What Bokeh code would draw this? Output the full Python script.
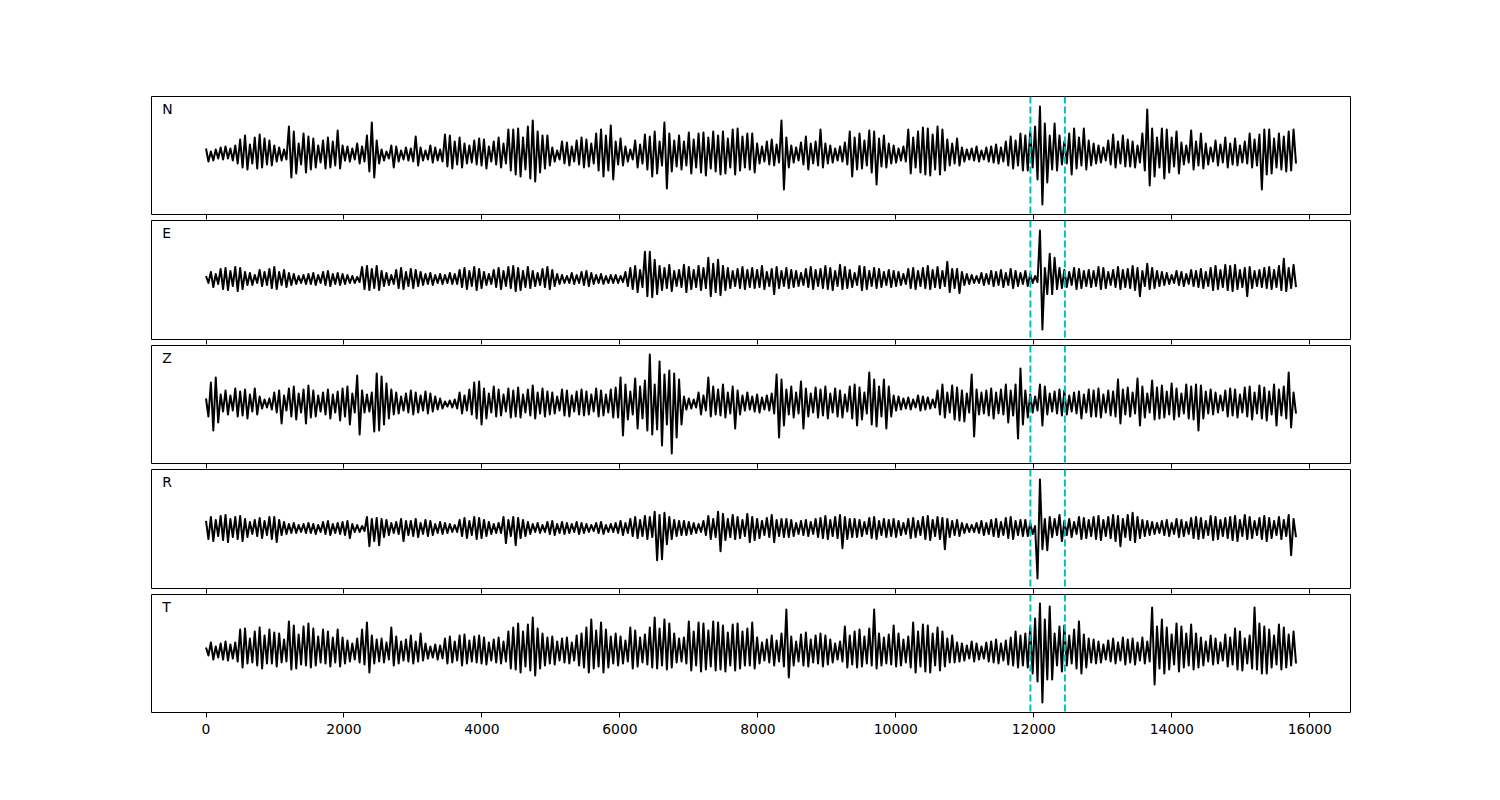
import numpy as np
from bokeh.plotting import figure
from bokeh.layouts import column
from bokeh.models import Range1d, Span, Label, FixedTicker, ColumnDataSource
from bokeh.embed import file_html
from bokeh.resources import INLINE

# ---------------- data (peak deflections) ----------------
channels = ["N", "E", "Z", "R", "T"]
t_start, t_end = 0, 15800
picks = [11950, 12450]
tick_values = [0, 2000, 4000, 6000, 8000, 10000, 12000, 14000, 16000]

trace_N = [
    7,-6,4,-5,6,-3,8,-4,9,-3,7,-5,10,-8,
    16,-12,20,-14,11,-8,18,-13,21,-12,17,-9,15,-10,
    10,-6,8,-5,6,-4,29,-22,24,-18,12,-9,22,-17,
    19,-14,17,-12,10,-7,15,-13,18,-12,14,-10,25,-13,
    10,-5,9,-6,7,-4,12,-8,9,-6,20,-16,33,-22,
    15,-8,6,-5,4,-3,10,-12,9,-6,5,-4,8,-5,
    7,-6,19,-10,8,-5,5,-4,10,-7,8,-5,6,-6,
    21,-11,20,-13,14,-9,18,-12,12,-8,10,-7,15,-9,
    17,-10,16,-13,9,-6,14,-9,18,-12,12,-8,26,-15,
    26,-19,27,-21,18,-14,29,-23,35,-26,24,-17,20,-13,
    20,-10,8,-6,5,-4,14,-8,13,-10,9,-6,15,-9,
    18,-12,16,-11,12,-8,22,-15,26,-21,20,-15,30,-24,
    14,-9,17,-10,9,-6,6,-4,15,-12,11,-8,21,-14,
    19,-21,24,-18,14,-10,33,-33,22,-16,15,-11,20,-14,
    14,-10,23,-18,16,-12,22,-17,23,-20,18,-13,24,-16,
    20,-19,24,-18,17,-12,26,-19,27,-15,19,-12,22,-14,
    22,-17,12,-8,9,-6,14,-9,16,-10,11,-7,35,-34,
    18,-12,10,-7,8,-5,13,-9,19,-14,12,-8,14,-10,
    26,-12,12,-8,10,-7,7,-5,9,-6,13,-9,24,-21,
    18,-14,22,-13,15,-10,25,-17,24,-29,17,-11,20,-12,
    12,-8,10,-7,7,-5,9,-6,26,-18,18,-12,24,-17,
    28,-19,27,-20,21,-14,29,-19,26,-15,16,-10,12,-8,
    17,-10,8,-6,6,-4,7,-5,9,-6,5,-4,8,-6,
    9,-7,11,-8,8,-6,14,-10,19,-13,15,-10,22,-15,
    20,-15,24,-12,29,-24,49,-49,32,-27,20,-14,32,-15,
    20,-9,14,-8,22,-19,27,-13,18,-10,27,-14,15,-10,
    12,-8,10,-7,8,-5,15,-9,21,-12,14,-8,20,-11,
    16,-11,14,-12,10,-7,22,-15,46,-30,27,-21,18,-12,
    27,-23,26,-17,18,-11,24,-18,13,-9,10,-7,25,-14,
    14,-10,22,-13,12,-9,8,-6,15,-10,11,-7,18,-12,
    12,-9,17,-10,10,-7,14,-8,22,-12,16,-10,21,-34,
    26,-19,26,-18,17,-12,22,-14,19,-16,24,-15,26,-8,
]

trace_E = [
    4,-3,8,-7,6,-4,11,-9,12,-10,9,-6,13,-11,
    12,-9,8,-5,7,-5,5,-3,10,-6,8,-5,11,-8,
    13,-9,8,-5,10,-7,7,-5,6,-4,4,-3,5,-4,
    6,-4,7,-5,5,-3,8,-5,9,-6,6,-4,7,-5,
    6,-4,5,-3,4,-3,3,-2,13,-9,14,-10,11,-8,
    14,-10,9,-6,7,-5,5,-4,10,-8,12,-9,8,-6,
    11,-8,10,-6,8,-5,6,-4,7,-5,5,-3,6,-4,
    5,-3,7,-4,6,-4,10,-7,12,-9,9,-6,13,-10,
    11,-8,8,-5,6,-4,10,-7,12,-9,9,-6,13,-8,
    14,-11,12,-10,9,-7,13,-8,9,-6,7,-5,11,-7,
    13,-9,10,-6,6,-4,5,-3,4,-3,7,-4,5,-3,
    8,-5,9,-6,7,-4,5,-3,6,-4,4,-3,5,-3,
    5,-3,4,-2,8,-6,12,-9,14,-12,10,-7,28,-16,
    28,-17,20,-14,14,-10,12,-8,15,-11,9,-6,10,-7,
    15,-12,13,-9,10,-7,14,-10,12,-8,22,-16,16,-12,
    20,-15,14,-10,12,-8,9,-6,11,-8,13,-9,10,-7,
    12,-8,10,-7,14,-9,8,-6,11,-14,13,-8,9,-6,
    12,-8,10,-7,9,-6,7,-5,11,-7,13,-9,10,-6,
    11,-8,14,-9,12,-10,9,-6,15,-9,13,-8,10,-7,
    7,-5,14,-10,13,-9,9,-6,12,-8,11,-7,8,-5,
    10,-7,9,-6,8,-5,6,-4,11,-8,12,-9,9,-6,
    12,-8,14,-9,10,-7,13,-8,9,-6,18,-12,11,-8,
    11,-13,8,-5,6,-4,5,-3,4,-3,7,-5,6,-4,
    9,-6,8,-5,10,-7,7,-5,11,-8,9,-6,7,-4,
    9,-6,6,-3,4,-2,49,-49,12,-14,26,-14,22,-9,
    12,-8,10,-7,8,-5,12,-9,11,-8,9,-6,10,-7,
    9,-6,13,-9,12,-8,8,-5,10,-7,13,-9,10,-7,
    11,-8,14,-10,12,-16,9,-6,16,-9,12,-8,9,-6,
    8,-5,7,-4,5,-3,9,-5,8,-6,6,-4,10,-6,
    9,-7,11,-8,8,-6,12,-10,14,-9,10,-7,15,-10,
    14,-11,15,-9,10,-7,12,-16,13,-8,9,-6,10,-7,
    12,-8,13,-9,10,-7,14,-10,21,-11,12,-8,15,-7,
]

trace_Z = [
    6,-12,22,-26,27,-18,10,-7,14,-10,9,-6,16,-12,
    13,-11,15,-14,10,-7,16,-10,8,-4,5,-3,6,-5,
    12,-8,14,-19,9,-6,16,-12,18,-15,11,-8,15,-19,
    19,-13,14,-12,9,-7,12,-10,15,-14,10,-8,13,-16,
    16,-12,18,-20,11,-8,29,-30,14,-8,10,-7,12,-27,
    31,-26,28,-20,21,-14,15,-10,12,-9,8,-6,11,-8,
    14,-10,12,-8,9,-6,13,-9,11,-7,8,-5,6,-4,
    3,-2,4,-3,5,-4,12,-9,9,-6,15,-10,22,-14,
    23,-20,16,-14,11,-8,18,-12,15,-11,10,-7,16,-13,
    14,-12,17,-13,10,-8,15,-11,19,-14,12,-9,16,-12,
    13,-10,12,-9,8,-6,15,-11,14,-12,9,-7,13,-10,
    15,-11,13,-10,10,-7,16,-12,14,-11,10,-8,15,-13,
    17,-13,27,-31,20,-15,13,-10,26,-24,18,-14,24,-26,
    50,-30,20,-25,43,-41,30,-20,34,-49,31,-33,25,-20,
    8,-5,6,-4,5,-3,12,-10,9,-6,27,-12,18,-10,
    15,-11,20,-13,12,-9,18,-24,14,-10,9,-6,12,-5,
    8,-7,10,-8,7,-5,9,-6,11,-9,30,-33,25,-21,
    15,-10,18,-13,12,-9,23,-24,16,-12,11,-8,17,-13,
    15,-11,18,-14,11,-8,16,-12,14,-13,10,-7,18,-14,
    20,-21,17,-15,12,-9,32,-20,25,-22,18,-12,25,-24,
    18,-12,9,-6,8,-5,6,-4,7,-5,5,-3,9,-6,
    8,-5,7,-4,5,-3,14,-10,20,-13,12,-8,19,-15,
    17,-16,14,-17,11,-8,30,-32,15,-10,12,-9,14,-11,
    16,-14,12,-9,15,-10,20,-18,14,-11,20,-34,36,-20,
    14,-13,10,-8,8,-6,20,-21,18,-10,11,-7,13,-9,
    15,-11,14,-10,9,-7,12,-9,13,-14,10,-8,15,-12,
    14,-12,16,-13,10,-8,14,-11,13,-12,25,-19,15,-10,
    17,-12,12,-9,26,-21,18,-13,11,-8,24,-15,17,-14,
    19,-13,13,-10,21,-15,16,-12,11,-9,20,-14,18,-15,
    20,-26,19,-14,13,-9,15,-10,12,-8,9,-6,14,-12,
    16,-11,15,-13,10,-8,17,-12,18,-15,12,-9,19,-14,
    17,-16,13,-10,20,-21,15,-11,18,-14,32,-23,12,-9,
]

trace_R = [
    8,-10,12,-12,9,-7,13,-11,14,-13,10,-8,12,-10,
    13,-12,10,-8,7,-5,9,-7,11,-9,8,-6,12,-10,
    12,-13,9,-6,7,-5,5,-4,6,-4,4,-3,5,-4,
    6,-4,5,-5,4,-3,7,-5,8,-6,5,-4,6,-5,
    7,-6,8,-9,5,-3,4,-3,3,-2,12,-17,10,-12,
    11,-16,10,-8,9,-6,6,-4,7,-5,10,-12,8,-6,
    8,-7,10,-8,6,-5,9,-7,8,-6,5,-4,7,-5,
    6,-4,5,-3,4,-3,9,-7,11,-9,8,-6,12,-10,
    11,-9,9,-7,7,-5,5,-4,6,-4,12,-14,9,-7,
    12,-16,11,-9,9,-7,7,-5,5,-3,6,-4,4,-3,
    7,-5,8,-6,5,-4,7,-5,6,-4,5,-3,7,-5,
    6,-4,5,-3,4,-2,6,-4,7,-5,4,-3,5,-3,
    6,-4,8,-6,6,-4,10,-7,12,-9,9,-7,13,-10,
    12,-8,17,-31,14,-30,16,-15,12,-10,9,-7,8,-6,
    8,-6,7,-5,6,-4,5,-3,8,-6,13,-10,10,-8,
    17,-22,15,-11,10,-8,14,-10,12,-9,9,-7,15,-13,
    12,-11,10,-9,8,-6,11,-8,14,-13,9,-7,10,-8,
    10,-8,9,-7,6,-5,8,-6,9,-7,7,-5,10,-8,
    11,-9,13,-10,9,-7,12,-9,14,-19,12,-10,10,-8,
    10,-8,9,-7,7,-5,11,-9,12,-10,8,-6,10,-8,
    9,-7,10,-8,8,-6,6,-5,10,-9,11,-8,8,-6,
    12,-10,13,-11,9,-7,12,-10,11,-20,10,-8,8,-6,
    9,-7,6,-4,5,-3,4,-3,6,-4,8,-6,6,-5,
    9,-7,10,-8,7,-6,11,-9,12,-10,8,-6,9,-7,
    9,-7,6,-5,3,-49,49,-20,10,-21,12,-8,10,-6,
    14,-12,8,-6,10,-8,7,-5,12,-10,11,-9,9,-7,
    12,-10,13,-11,9,-7,12,-9,14,-12,13,-17,10,-8,
    14,-11,16,-13,12,-9,9,-7,8,-6,7,-5,6,-4,
    8,-6,9,-7,6,-5,10,-8,9,-7,7,-5,11,-9,
    12,-10,11,-9,8,-6,13,-11,12,-10,9,-7,11,-9,
    12,-11,13,-12,9,-7,14,-10,12,-9,8,-6,11,-10,
    13,-12,11,-9,8,-6,12,-10,9,-7,14,-26,10,-8,
]

trace_T = [
    6,-2,11,-6,7,-4,10,-6,12,-7,9,-5,11,-8,
    24,-14,25,-10,15,-9,22,-12,26,-15,18,-10,24,-10,
    21,-13,20,-9,14,-8,32,-16,28,-15,19,-11,27,-12,
    30,-14,25,-12,17,-9,24,-10,22,-13,16,-9,24,-13,
    16,-10,13,-8,10,-6,15,-9,24,-11,31,-19,18,-10,
    14,-8,15,-9,11,-6,26,-12,17,-10,12,-7,14,-8,
    18,-10,12,-8,20,-7,10,-5,7,-4,9,-6,8,-5,
    15,-10,17,-9,12,-7,18,-12,19,-10,13,-8,17,-9,
    18,-10,16,-11,11,-7,14,-9,16,-10,12,-8,22,-15,
    26,-16,30,-19,22,-13,29,-17,36,-22,25,-15,20,-12,
    16,-10,17,-11,12,-7,15,-9,16,-10,11,-7,18,-12,
    20,-14,26,-19,34,-15,23,-13,31,-19,24,-14,17,-10,
    20,-12,17,-10,13,-8,26,-15,23,-13,16,-9,19,-11,
    26,-14,36,-15,25,-12,34,-16,30,-14,20,-9,15,-8,
    16,-10,32,-17,22,-12,31,-18,30,-16,23,-13,32,-17,
    31,-16,28,-18,21,-12,29,-17,30,-15,22,-12,25,-12,
    31,-15,16,-10,11,-7,14,-9,18,-12,13,-8,20,-13,
    44,-24,17,-12,12,-8,19,-12,21,-13,14,-9,18,-10,
    20,-13,18,-11,14,-9,10,-6,12,-8,27,-14,18,-11,
    22,-14,24,-13,17,-10,25,-12,44,-15,20,-12,16,-10,
    19,-11,28,-13,20,-12,14,-9,17,-14,31,-19,22,-13,
    29,-18,28,-19,20,-12,26,-17,22,-13,15,-9,18,-9,
    11,-8,10,-7,8,-5,12,-8,10,-6,7,-5,11,-8,
    12,-9,14,-10,10,-7,13,-11,16,-12,22,-14,18,-12,
    20,-14,26,-20,35,-28,50,-49,34,-26,47,-26,20,-12,
    27,-18,28,-12,18,-10,24,-15,32,-20,19,-14,15,-9,
    14,-10,12,-9,9,-6,13,-8,15,-10,11,-7,16,-11,
    14,-9,15,-11,11,-7,16,-10,12,-8,46,-31,27,-15,
    34,-20,26,-16,19,-11,30,-18,27,-14,20,-12,29,-16,
    20,-14,16,-12,12,-8,18,-11,15,-10,11,-7,19,-13,
    16,-11,25,-16,22,-17,15,-10,18,-15,46,-16,30,-20,
    27,-20,24,-14,18,-11,29,-16,26,-14,19,-12,22,-10,
]

traces = [trace_N, trace_E, trace_Z, trace_R, trace_T]

# ---------------- layout ----------------
pad = 0.05 * (t_end - t_start)
x_range = Range1d(t_start - pad, t_end + pad)
amp = 59
frame_heights = [118, 119, 118, 119, 118]
FONT = "DejaVu Sans"
FS = "13.9px"

panels = []
for i, (name, vals) in enumerate(zip(channels, traces)):
    last = i == len(channels) - 1
    top = 96 if i == 0 else 0
    bottom = 40 if last else 6
    fh = frame_heights[i]
    p = figure(width=151 + 1199 + 50, height=top + fh + bottom,
               x_range=x_range, y_range=Range1d(-amp, amp),
               y_axis_location=None, output_backend="svg", toolbar_location=None,
               min_border_left=151, min_border_right=50,
               min_border_top=top, min_border_bottom=bottom)
    p.grid.visible = False
    p.outline_line_color = "black"
    p.outline_line_width = 1
    p.outline_line_alpha = 1.0

    xs = np.linspace(t_start, t_end, len(vals))
    src = ColumnDataSource(dict(x=xs, y=vals))
    p.line("x", "y", source=src, line_color="black", line_width=2, line_join="round")

    for pk in picks:
        p.add_layout(Span(location=pk, dimension="height", line_color="#00bfbf",
                          line_width=2, line_dash="7 3"))

    span = x_range.end - x_range.start
    p.add_layout(Label(x=x_range.start + 0.009 * span, y=amp - 12, text=name,
                       text_font=FONT, text_font_size=FS, text_color="black",
                       text_align="left", text_baseline="middle"))

    ax = p.xaxis[0]
    ax.ticker = FixedTicker(ticks=tick_values, minor_ticks=[])
    ax.axis_line_color = None
    ax.major_tick_out = 5
    ax.major_tick_in = 0
    ax.major_tick_line_color = "black"
    ax.major_tick_line_width = 1
    ax.minor_tick_line_color = None
    if last:
        ax.major_label_text_font = FONT
        ax.major_label_text_font_size = FS
        ax.major_label_text_color = "black"
        ax.major_label_standoff = 6
    else:
        ax.major_label_text_font_size = "0px"
        ax.major_label_standoff = 0
        ax.major_label_text_color = None
    panels.append(p)

layout = column(*panels, spacing=0)
open("out.html", "w").write(file_html(layout, INLINE))
